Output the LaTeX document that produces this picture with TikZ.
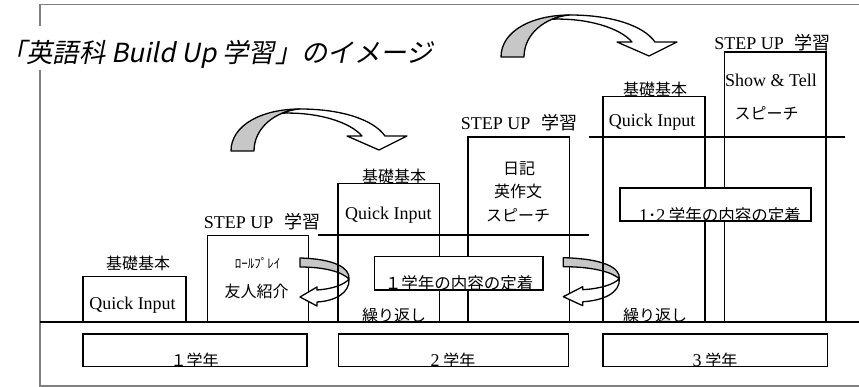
\documentclass[tikz,border=0pt]{standalone}
\usepackage{fontspec}
\newfontfamily\jp{Noto Sans CJK JP}
\newfontfamily\jpt[FakeSlant=0.2]{Noto Sans CJK JP}
\newfontfamily\lser{Liberation Serif}
\usetikzlibrary{fit}
\tikzset{
  box/.style={draw=black, line width=1.6pt, inner sep=0pt, outer sep=0pt},
  wbox/.style={box, fill=white},
  jt/.style={font=\jp\fontsize{16}{18}\selectfont, inner sep=0pt},
  lt/.style={font=\lser\fontsize{18}{20}\selectfont, inner sep=0pt},
  framel/.style={draw=black!50, line width=1.3pt},
  gline/.style={draw=black, line width=1.7pt},
  aline/.style={draw=black, line width=1.3pt, line join=round},
  bigarrow/.pic={
    \draw[aline, fill=black!22] (0,0) .. controls (0,-26) and (31,-42) .. (69,-42)
      .. controls (44,-40) and (23,-23) .. (23,0) -- cycle;
    \draw[aline, fill=white] (51.27,-37.83) .. controls (56.75,-40.06) and (62.75,-41.5) .. (69,-42)
      .. controls (109,-42) and (142,-32) .. (154,-15) -- (176,-15) -- (148,-1) -- (116,-15) -- (131,-15)
      .. controls (119,-29) and (87,-39) .. (51.27,-37.83) -- cycle;
  },
  uarrow/.pic={
    \draw[aline, fill=black!22] (0,-39) .. controls (35,-38) and (50,-29) .. (49,-18)
      .. controls (42,-25) and (25,-30) .. (0,-30) -- cycle;
    \draw[aline, fill=white] (49,-18) .. controls (50,-4) and (35,4) .. (17,5) -- (17,9) -- (0,0)
      -- (17,-10) -- (17,-7) .. controls (32,-8) and (44,-12) .. (49,-18) -- cycle;
  }
}
\begin{document}
\begin{tikzpicture}[x=1pt,y=-1pt]
\useasboundingbox (0,0) rectangle (859,387);
% frame
\coordinate (f1) at (40,26); \coordinate (f2) at (40,4.5); \coordinate (f3) at (860,4.5);
\coordinate (f4) at (40,70); \coordinate (f5) at (40,386); \coordinate (f6) at (860,386);
\draw[framel] (f1) -- (f2) -- (f3);
\draw[framel] (f4) -- (f5) -- (f6);
\node[anchor=west, font=\jpt\fontsize{26.3}{30}\selectfont, inner sep=0pt] (title) at (0,54) {「英語科 Build Up 学習」のイメージ};
% ground line
\coordinate (g0) at (40,321.7); \coordinate (g1) at (860,321.7);
\draw[gline] (g0) -- (g1);
% stage 1
\node[jt] (k1) at (138,263.5) {基礎基本};
\node[box, fit={(82.7,276.7) (185.7,321.7)}] (q1) {};
\node[lt] (qt1) at (132.5,305) {Quick Input};
\node[lt] (st1) at (262,221.7) {STEP UP\hspace{0.6em}{\jp 学習}};
\node[box, fit={(207.3,235.7) (308.3,321.7)}] (s1) {};
\node[font=\jp\fontsize{13}{14}\selectfont, inner sep=0pt] (rp) at (257.5,263) {ﾛｰﾙﾌﾟﾚｲ};
\node[jt] (yj) at (256.7,291) {友人紹介};
% arrow 1 -> 2 (small)
\pic at (300,297) {uarrow};
% stage 2
\coordinate (l2a) at (318,235); \coordinate (l2b) at (589,235);
\draw[box] (l2a) -- (l2b);
\node[jt] (k2) at (394,176) {基礎基本};
\node[box, fit={(337.7,183.7) (439.3,321.7)}] (q2) {};
\node[lt] (qt2) at (388.3,215) {Quick Input};
\node[lt] (st2) at (519,122.5) {STEP UP\hspace{0.6em}{\jp 学習}};
\node[box, fit={(467.7,137.3) (569.3,321.7)}] (s2) {};
\node[jt] (nk) at (519,169) {日記};
\node[jt] (es) at (518,191.7) {英作文};
\node[jt] (sp2) at (518,215) {スピーチ};
\node[wbox, fit={(374.3,256.7) (542.7,290)}] (i2) {};
\begin{scope}
\clip (i2.north west) rectangle (i2.south east);
\node[jt, font=\jp\fontsize{16.5}{18}\selectfont] (i2t) at (459,283.5) {１学年の内容の定着};
\end{scope}
\begin{scope}
\clip (340,290) rectangle (437,321.7);
\node[jt] (kr2) at (394,315.5) {繰り返し};
\end{scope}
% arrow 2 -> 3 (small)
\pic[xscale=1.143] at (563.3,296.7) {uarrow};
% stage 3
\coordinate (l3a) at (589.3,137.3); \coordinate (l3b) at (845,137.3);
\draw[box] (l3a) -- (l3b);
\node[jt] (k3) at (655,89) {基礎基本};
\node[box, fit={(602.7,96.7) (705,321.7)}] (q3) {};
\node[lt] (qt3) at (652,122.5) {Quick Input};
\node[lt] (st3) at (772.5,42.5) {STEP UP\hspace{0.6em}{\jp 学習}};
\node[box, fit={(724.3,52.3) (826,321.7)}] (s3) {};
\node[lt] (sht) at (771,80) {Show \& Tell};
\node[jt] (sp3) at (766.7,113.3) {スピーチ};
\node[wbox, fit={(620,188.3) (810.7,221)}] (i3) {};
\begin{scope}
\clip (i3.north west) rectangle (i3.south east);
\node[jt, font=\jp\fontsize{16.5}{18}\selectfont] (i3t) at (720,215) {{\lser\fontsize{18}{20}\selectfont 1}･{\lser\fontsize{18}{20}\selectfont 2} 学年の内容の定着};
\end{scope}
\begin{scope}
\clip (605,290) rectangle (703,321.7);
\node[jt] (kr3) at (655,315.5) {繰り返し};
\end{scope}
% year boxes
\node[box, fit={(82.7,334) (306.7,366.3)}] (y1) {};
\node[box, fit={(338.3,334) (568.3,366.3)}] (y2) {};
\node[box, fit={(602.7,334) (827.3,366.3)}] (y3) {};
\begin{scope}
\clip (y1.north west) rectangle (y1.south east);
\node[jt] (y1t) at (194.7,360.3) {１学年};
\end{scope}
\begin{scope}
\clip (y2.north west) rectangle (y2.south east);
\node[jt] (y2t) at (453,360.3) {{\lser\fontsize{18}{20}\selectfont 2} 学年};
\end{scope}
\begin{scope}
\clip (y3.north west) rectangle (y3.south east);
\node[jt] (y3t) at (715,360.3) {{\lser\fontsize{18}{20}\selectfont 3} 学年};
\end{scope}
% big arrows
\pic at (231,151) {bigarrow};
\pic at (501,57) {bigarrow};
\end{tikzpicture}
\end{document}
